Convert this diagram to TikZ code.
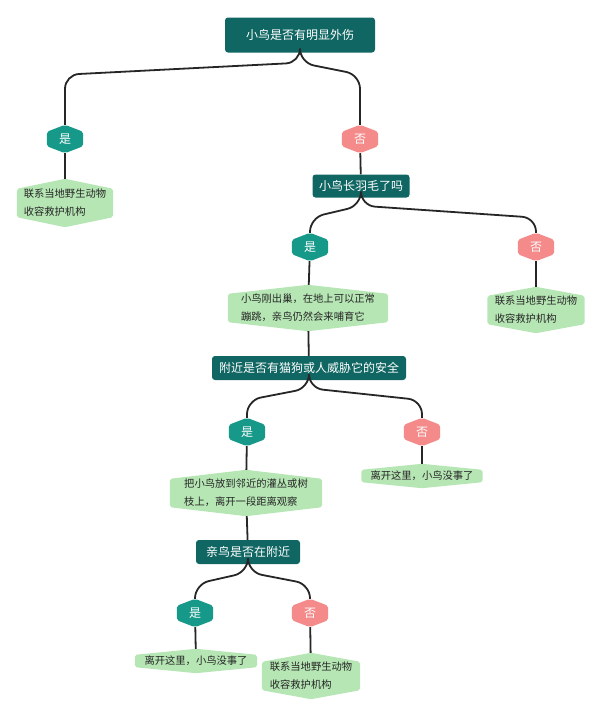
\documentclass[tikz,border=0pt]{standalone}
\usepackage{fontspec}
\setmainfont{Noto Sans CJK SC}
\usetikzlibrary{backgrounds}
\definecolor{dk}{HTML}{0F6662}
\definecolor{yes}{HTML}{17998A}
\definecolor{no}{HTML}{F48A8A}
\definecolor{lf}{HTML}{B6E6B4}
\tikzset{x=1pt,y=-1pt,
 q/.style={fill=dk,text=white,rounded corners=3pt,font=\fontsize{12}{14}\selectfont,inner sep=0pt},
 hx/.style={text=white,inner sep=0pt,minimum width=36,minimum height=28,font=\fontsize{12}{14}\selectfont},
 leaf/.style={text=black!85,inner sep=0pt,align=left,font=\fontsize{10.3}{18}\selectfont},
 ln/.style={line width=1.8pt,draw=black!85,rounded corners=14pt}}
\newcommand\hexfill[3]{\begin{pgfonlayer}{background}\fill[#3,rounded corners=2pt]
 ([yshift=-#2]#1.north west)--(#1.north)--([yshift=-#2]#1.north east)--([yshift=#2]#1.south east)--(#1.south)--([yshift=#2]#1.south west)--cycle;\end{pgfonlayer}}
\newcommand\conn[3]{\draw[ln] (#1.south)--++(0,#3)--([yshift=-#3-12]#1.south-|#2.north)--(#2.north);}
\begin{document}
\begin{tikzpicture}
\useasboundingbox (0,0) rectangle (600,723);
\node[q,minimum width=150,minimum height=35] (r) at (300,35) {小鸟是否有明显外伤};
\node[hx] (y1) at (65,139) {是}; \hexfill{y1}{7pt}{yes}
\node[hx] (n1) at (360,139) {否}; \hexfill{n1}{7pt}{no}
\node[leaf,minimum width=96,minimum height=48] (l1) at (65,203) {联系当地野生动物\\收容救护机构}; \hexfill{l1}{10pt}{lf}
\node[q,minimum width=97,minimum height=23] (q2) at (361,186) {小鸟长羽毛了吗};
\node[hx] (y2) at (310,247) {是}; \hexfill{y2}{7pt}{yes}
\node[hx] (n2) at (536,247) {否}; \hexfill{n2}{7pt}{no}
\node[leaf,minimum width=160,minimum height=46] (l2) at (308,308) {小鸟刚出巢，在地上可以正常\\蹦跳，亲鸟仍然会来哺育它}; \hexfill{l2}{9pt}{lf}
\node[leaf,minimum width=97,minimum height=46] (l2n) at (536,310) {联系当地野生动物\\收容救护机构}; \hexfill{l2n}{9pt}{lf}
\node[q,minimum width=194,minimum height=24] (q3) at (309,368) {附近是否有猫狗或人威胁它的安全};
\node[hx] (y3) at (247,432) {是}; \hexfill{y3}{7pt}{yes}
\node[hx] (n3) at (422,432) {否}; \hexfill{n3}{7pt}{no}
\node[leaf,minimum width=152,minimum height=46] (l3) at (246,493) {把小鸟放到邻近的灌丛或树\\枝上，离开一段距离观察}; \hexfill{l3}{9pt}{lf}
\node[leaf,minimum width=121,minimum height=24] (l3n) at (422,476) {离开这里，小鸟没事了}; \hexfill{l3n}{6pt}{lf}
\node[q,minimum width=104,minimum height=24] (q4) at (248,552) {亲鸟是否在附近};
\node[hx] (y4) at (195,613) {是}; \hexfill{y4}{7pt}{yes}
\node[hx] (n4) at (310,613) {否}; \hexfill{n4}{7pt}{no}
\node[leaf,minimum width=122,minimum height=24] (l4) at (196,661) {离开这里，小鸟没事了}; \hexfill{l4}{6pt}{lf}
\node[leaf,minimum width=98,minimum height=46] (l4n) at (311,676) {联系当地野生动物\\收容救护机构}; \hexfill{l4n}{9pt}{lf}
\conn{r}{y1}{10} \conn{r}{n1}{10}
\draw[ln] (y1)--(l1); \draw[ln] (n1)--(q2);
\conn{q2}{y2}{8} \conn{q2}{n2}{8}
\draw[ln] (y2)--(l2); \draw[ln] (n2)--(l2n); \draw[ln] (l2)--(q3);
\conn{q3}{y3}{8} \conn{q3}{n3}{8}
\draw[ln] (y3)--(l3); \draw[ln] (n3)--(l3n); \draw[ln] (l3)--(q4);
\conn{q4}{y4}{8} \conn{q4}{n4}{8}
\draw[ln] (y4)--(l4); \draw[ln] (n4)--(l4n);
\end{tikzpicture}
\end{document}
